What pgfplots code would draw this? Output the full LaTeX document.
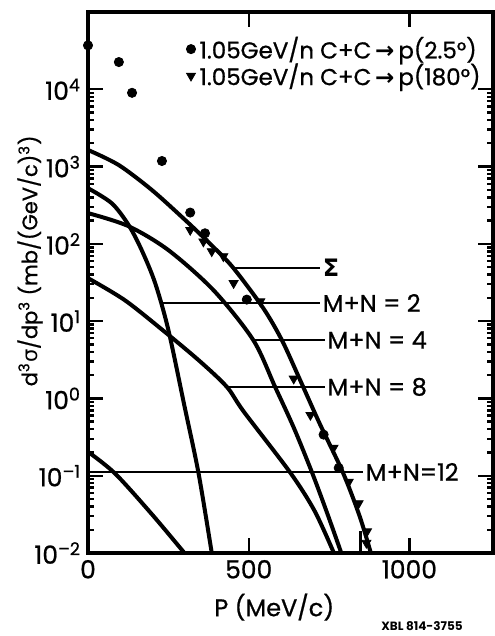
\documentclass[border=0pt]{standalone}
\usepackage{pgfplots}
\pgfplotsset{compat=1.18}
\usepackage{fontspec}
\setmainfont{Poppins}[UprightFeatures={FakeBold=0.8}]
\newfontfamily\grk{DejaVu Sans}

\begin{document}
\begin{tikzpicture}
\begin{axis}[
  width=202.5pt, height=270.5pt, scale only axis,
  ymode=log,
  xmin=0, xmax=1260, ymin=1e-2, ymax=1e5,
  axis line style={line width=1.6pt},
  xtick={0,500,1000}, xticklabels={0,500,1000},
  ytick={1e-2,1e-1,1,10,100,1000,1e4},
  yticklabels={10\textsuperscript{–2},10\textsuperscript{–1},10\textsuperscript{0},10\textsuperscript{1},10\textsuperscript{2},10\textsuperscript{3},10\textsuperscript{4}},
  major tick length=7.5pt,
  tick style={line width=1.2pt, black},
  tick label style={font=\fontsize{12.5}{14}\selectfont},
  xlabel={P (MeV/c)},
  ylabel={d\textsuperscript{3}{\grk σ}/dp\textsuperscript{3} (mb/(GeV/c)\textsuperscript{3})},
  xlabel style={font=\fontsize{12}{14}\selectfont, at={(axis description cs:0.46,-0.1)}, anchor=center},
  ylabel style={font=\fontsize{10.5}{12}\selectfont, at={(axis description cs:-0.143,0.54)}, anchor=center},
  legend style={draw=none, fill=none, at={(rel axis cs:0.985,0.966)}, anchor=north east,
    font=\fontsize{11.5}{13}\selectfont, row sep=-3pt, inner sep=1pt},
  legend cell align=left,
]
% data, 2.5 deg
\addplot[only marks, mark=*, mark size=2.3pt, black] coordinates {
(0,3.7e4) (96,2.25e4) (137,9.0e3) (230,1.18e3) (318,254) (364,137)
(494,19) (733,0.34) (780,0.126)
};
\addlegendentry{1.05GeV/n C+C\,{\grk\bfseries →}\,p(2.5°)}
% data, 180 deg
\addplot[only marks, mark=triangle*, mark size=2.6pt, mark options={rotate=180}, black] coordinates {
(318,151) (359,107) (385,80) (421,69) (453,31) (536,18) (640,1.8)
(692,0.61) (764,0.23) (811,0.083) (842,0.044) (868,0.019) (866,0.0135)
};
\addlegendentry{1.05GeV/n C+C\,{\grk\bfseries →}\,p(180°)}

% model curves
\addplot[black, line width=2pt, smooth, forget plot] coordinates {
(0,1640) (95,1050) (198,500) (302,204) (380,100) (450,50) (544,15)
(603,5.7) (658,1.8) (720,0.48) (793,0.11) (845,0.03) (880,0.01)
};
\addplot[black, line width=2pt, smooth, forget plot] coordinates {
(0,525) (74,335) (126,176) (167,83) (209,31) (250,7.7) (300,0.8)
(344,0.107) (385,0.01)
};
\addplot[black, line width=2pt, smooth, forget plot] coordinates {
(0,250) (125,170) (250,83) (391,25) (514,5.7) (582,1.41) (640,0.42)
(697,0.11) (745,0.032) (788,0.01)
};
\addplot[black, line width=2pt, smooth, forget plot] coordinates {
(0,36) (115,18.6) (240,7.2) (349,3.0) (432,1.41) (484,0.68) (629,0.11)
(705,0.035) (765,0.01)
};
\addplot[black, line width=2pt, smooth, forget plot] coordinates {
(0,0.204) (84,0.107) (198,0.032) (300,0.01)
};
\addplot[black, line width=1.4pt, forget plot] coordinates {(847,0.01) (847,0.019)};

% pointer lines
\addplot[black, line width=1.1pt, forget plot] coordinates {(450,49) (723,49)};
\addplot[black, line width=1.1pt, forget plot] coordinates {(230,17.2) (723,17.2)};
\addplot[black, line width=1.1pt, forget plot] coordinates {(512,5.7) (738,5.7)};
\addplot[black, line width=1.1pt, forget plot] coordinates {(432,1.41) (738,1.41)};
\addplot[black, line width=1.1pt, forget plot] coordinates {(0,0.112) (857,0.112)};

\node[anchor=west, inner sep=1pt, font=\fontsize{12}{14}\selectfont\grk\bfseries] at (axis cs:723,49) {Σ};
\node[anchor=west, inner sep=1pt, font=\fontsize{12}{14}\selectfont] at (axis cs:723,17.2) {M+N = 2};
\node[anchor=west, inner sep=1pt, font=\fontsize{12}{14}\selectfont] at (axis cs:738,5.7) {M+N = 4};
\node[anchor=west, inner sep=1pt, font=\fontsize{12}{14}\selectfont] at (axis cs:738,1.41) {M+N = 8};
\node[anchor=west, inner sep=1pt, font=\fontsize{12}{14}\selectfont] at (axis cs:857,0.112) {M+N=12};
\end{axis}
\node[font=\fontsize{6}{7}\selectfont\bfseries] at (167pt,-36.5pt) {XBL 814-3755};
\pgfresetboundingbox
\path[use as bounding box] (-44pt,-41.5pt) rectangle (203pt,276.5pt);
\end{tikzpicture}
\end{document}
